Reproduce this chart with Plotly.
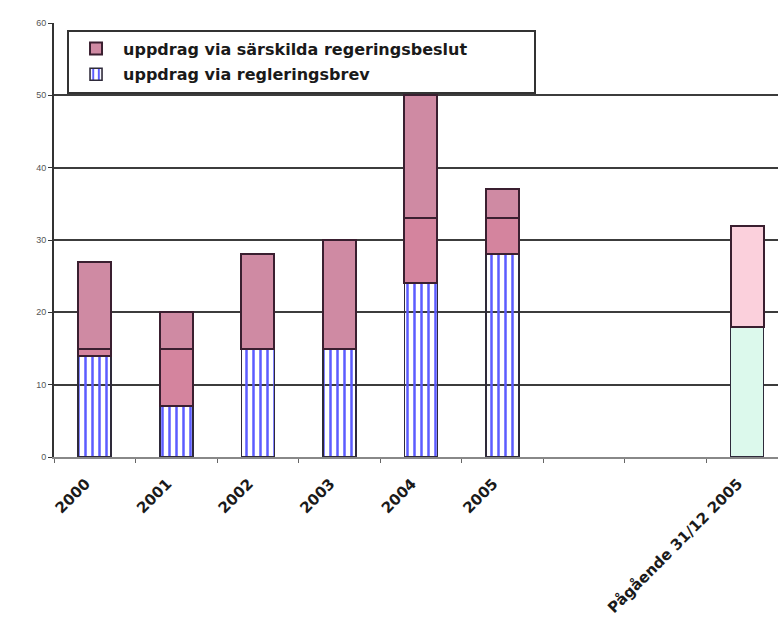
import plotly.graph_objects as go

# Categories (two empty slots separate the yearly bars from the ongoing ones)
categories = ["2000", "2001", "2002", "2003", "2004", "2005", " ", "  ", "Pågående 31/12 2005"]

# Stacked segments
regleringsbrev = [14, 7, 15, 15, 24, 28, None, None, 18]
mellan = [1, 8, 0, 0, 9, 5, None, None, 0]
sarskilda = [12, 5, 13, 15, 17, 4, None, None, 14]

y_ticks = [0, 10, 20, 30, 40, 50, 60]
grid_vals = [10, 20, 30, 40, 50]

name_sarskilda = "uppdrag via särskilda regeringsbeslut"
name_brev = "uppdrag via regleringsbrev"

ongoing = "Pågående 31/12 2005"
pad = "\u00a0" * 11


def split(values):
    """Split a series into (finished years, ongoing) so each part gets its own style."""
    years = [None if c == ongoing else v for c, v in zip(categories, values)]
    rest = [v if c == ongoing else None for c, v in zip(categories, values)]
    return years, rest


brev_years, brev_ongoing = split(regleringsbrev)
sar_years, sar_ongoing = split(sarskilda)

bar_w = 0.405
edge = "#2e2a3a"
pink_edge = "#3a1f30"
stripe = "#5c5cff"

fig = go.Figure()
# lower layer: blue vertical stripes on white
fig.add_trace(go.Bar(
    x=categories, y=brev_years, name=name_brev + pad,
    legendrank=2, legendgroup="brev", width=bar_w,
    marker=dict(color=[stripe] * len(categories),
                pattern=dict(shape="|", fillmode="replace", size=7, solidity=0.36),
                line=dict(color=edge, width=1.6)),
))
fig.add_trace(go.Bar(
    x=categories, y=brev_ongoing, showlegend=False, legendgroup="brev", width=bar_w,
    marker=dict(color="#dcf9ec", line=dict(color=edge, width=1.6)),
))
# middle layer
fig.add_trace(go.Bar(
    x=categories, y=mellan, showlegend=False, legendgroup="sar", width=bar_w,
    marker=dict(color="#d4849e", line=dict(color=pink_edge, width=2)),
))
# upper layer
fig.add_trace(go.Bar(
    x=categories, y=sar_years, name=name_sarskilda + pad,
    legendrank=1, legendgroup="sar", width=bar_w,
    marker=dict(color="#cf8aa3", line=dict(color=pink_edge, width=2)),
))
fig.add_trace(go.Bar(
    x=categories, y=sar_ongoing, showlegend=False, legendgroup="sar", width=bar_w,
    marker=dict(color="#fbd0dc", line=dict(color=pink_edge, width=2)),
))

fig.update_layout(
    width=778, height=641,
    barmode="stack",
    paper_bgcolor="white", plot_bgcolor="white",
    margin=dict(l=54, r=0, t=23, b=184),
    font=dict(family="DejaVu Sans, Liberation Sans, Arial, sans-serif", color="#222"),
    showlegend=True,
    legend=dict(
        x=0.018, y=0.985, xanchor="left", yanchor="top",
        bgcolor="white", bordercolor="#333", borderwidth=2,
        font=dict(size=16, color="#1a1a1a", weight="bold"),
        traceorder="grouped", tracegroupgap=2, itemwidth=44,
    ),
    xaxis=dict(
        type="category", range=[-0.5, 8.38],
        categoryorder="array", categoryarray=categories,
        showline=True, linecolor="#888", linewidth=2,
        ticks="outside", tickson="boundaries", ticklen=4, tickcolor="#666",
        tickangle=-45, tickfont=dict(size=15, color="#1a1a1a", weight="bold"),
        ticklabelstandoff=10, ticklabelshift=-9,
        showgrid=False, zeroline=False,
    ),
    yaxis=dict(
        range=[0, 60], tickvals=y_ticks, ticktext=[str(v) for v in y_ticks],
        showline=True, linecolor="#333", linewidth=2,
        ticks="outside", ticklen=4, tickcolor="#333",
        tickfont=dict(family="Liberation Sans, Arial, sans-serif", size=9, color="#555"),
        showgrid=False, zeroline=False,
        minor=dict(tickvals=grid_vals, showgrid=True, gridcolor="#3c3c3c", gridwidth=2, ticks=""),
    ),
)

fig.write_html("out.html")
